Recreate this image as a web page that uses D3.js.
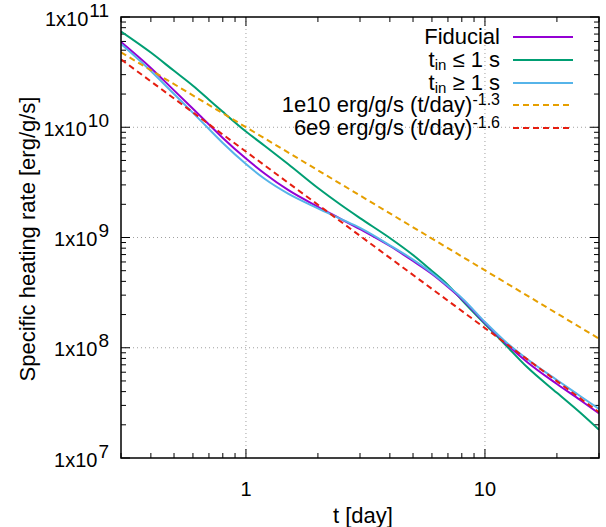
<!DOCTYPE html>
<html><head><meta charset="utf-8">
<script src="https://cdn.jsdelivr.net/npm/d3@7"></script>
<style>
body{margin:0;background:#fff;}
text{font-family:"Liberation Sans",Arial,Helvetica,sans-serif;fill:#000;}
</style></head>
<body><svg id="c" width="606" height="527"></svg>
<script>
// ---- data ----
const days = [0.3,0.4,0.5,0.6,0.7,0.8,1,1.2,1.5,2,2.5,3,4,5,6,7,8,10,12,15,20,25,30];
const fiducial = [5.93e10,3.45e10,2.16e10,1.47e10,1.06e10,8.0e9,5.2e9,3.79e9,2.7e9,1.9e9,1.47e9,1.19e9,8.37e8,6.12e8,4.67e8,3.56e8,2.77e8,1.68e8,1.14e8,7.43e7,4.69e7,3.36e7,2.54e7];
const tinShort = [7.39e10,4.76e10,3.25e10,2.38e10,1.78e10,1.38e10,9.15e9,6.76e9,4.64e9,2.81e9,1.97e9,1.5e9,9.9e8,6.94e8,4.97e8,3.71e8,2.71e8,1.64e8,1.1e8,6.68e7,3.9e7,2.58e7,1.8e7];
const tinLong = [5.69e10,3.24e10,2.0e10,1.35e10,9.64e9,7.2e9,4.64e9,3.39e9,2.5e9,1.84e9,1.47e9,1.22e9,8.5e8,6.3e8,4.77e8,3.63e8,2.83e8,1.71e8,1.17e8,7.9e7,5.1e7,3.65e7,2.78e7];
const fitDays = [0.3,30];
const fit13 = [4.78e10,1.21e8];
const fit16 = [4.13e10,2.6e7];
const xMajor = [1,10];
const xMajorLabels = ["1","10"];
const xMinor = [0.3,0.4,0.5,0.6,0.7,0.8,0.9,2,3,4,5,6,7,8,9,20,30];
const yMajor = [1e7,1e8,1e9,1e10,1e11];
const yMajorExp = ["7","8","9","10","11"];
const seriesNames = ["Fiducial","t_in ≤ 1 s","t_in ≥ 1 s","1e10 erg/g/s (t/day)^-1.3","6e9 erg/g/s (t/day)^-1.6"];
const seriesColors = ["#9400d3","#009e73","#56b4e9","#e69f00","#e51e10"];

// ---- layout ----
const svg = d3.select("#c");
const L=121,R=599,T=17,B=458;
const x = d3.scaleLog().domain([0.3,30]).range([L,R]);
const y = d3.scaleLog().domain([1e7,1e11]).range([B,T]);
const yMinor = [];
for (let e=7;e<11;e++) for (let m=2;m<=9;m++) yMinor.push(m*Math.pow(10,e));

// grid
const g = svg.append("g");
g.selectAll(".gx").data(xMajor).enter().append("line")
 .attr("x1",d=>x(d)).attr("x2",d=>x(d)).attr("y1",T).attr("y2",B)
 .attr("stroke","#a0a0a0").attr("stroke-width",1).attr("stroke-dasharray","1,3");
g.selectAll(".gy").data(yMajor.slice(1,4)).enter().append("line")
 .attr("y1",d=>y(d)).attr("y2",d=>y(d)).attr("x1",L).attr("x2",R)
 .attr("stroke","#a0a0a0").attr("stroke-width",1).attr("stroke-dasharray","1,3");

// ticks (mirrored, inward)
const tk = svg.append("g").attr("stroke","#000").attr("stroke-width",1);
function xt(vals,len){
  vals.forEach(v=>{
    tk.append("line").attr("x1",x(v)).attr("x2",x(v)).attr("y1",B).attr("y2",B-len);
    tk.append("line").attr("x1",x(v)).attr("x2",x(v)).attr("y1",T).attr("y2",T+len);
  });
}
function yt(vals,len){
  vals.forEach(v=>{
    tk.append("line").attr("y1",y(v)).attr("y2",y(v)).attr("x1",L).attr("x2",L+len);
    tk.append("line").attr("y1",y(v)).attr("y2",y(v)).attr("x1",R).attr("x2",R-len);
  });
}
xt(xMajor,9); xt(xMinor,5); yt(yMajor,9); yt(yMinor,5);

// clip
svg.append("clipPath").attr("id","clip").append("rect").attr("x",L).attr("y",T).attr("width",R-L).attr("height",B-T);
const plot = svg.append("g").attr("clip-path","url(#clip)");
const line = d3.line().x(d=>x(d[0])).y(d=>y(d[1])).curve(d3.curveMonotoneX);
const series = [
 {v:fit13,t:fitDays,c:seriesColors[3],dash:"6,4"},
 {v:fit16,t:fitDays,c:seriesColors[4],dash:"6,4"},
 {v:tinShort,t:days,c:seriesColors[1]},
 {v:fiducial,t:days,c:seriesColors[0]},
 {v:tinLong,t:days,c:seriesColors[2]}
];
[series[2],series[3],series[4],series[0],series[1]].forEach(s=>{
  plot.append("path").datum(s.t.map((t,i)=>[t,s.v[i]]))
   .attr("d",line).attr("fill","none").attr("stroke",s.c).attr("stroke-width",2)
   .attr("stroke-dasharray",s.dash||null);
});

// frame
svg.append("rect").attr("x",L).attr("y",T).attr("width",R-L).attr("height",B-T)
 .attr("fill","none").attr("stroke","#000").attr("stroke-width",1.5);

// tick labels
xMajor.forEach((v,i)=>{
  svg.append("text").attr("x",x(v)).attr("y",496).attr("text-anchor","middle")
   .attr("font-size",20).text(xMajorLabels[i]);
});
yMajor.forEach((v,i)=>{
  const t = svg.append("text").attr("x",109).attr("y",y(v)+8.5).attr("text-anchor","end").attr("font-size",20);
  t.append("tspan").text("1x10");
  t.append("tspan").attr("dy",-9).attr("dx",1).attr("font-size",19).text(yMajorExp[i]);
});

// axis titles
svg.append("text").attr("x",363).attr("y",523).attr("text-anchor","middle").attr("font-size",22).text("t [day]");
svg.append("text").attr("transform","translate(35,239) rotate(-90)").attr("text-anchor","middle")
 .attr("font-size",22).text("Specific heating rate [erg/g/s]");

// legend
const legY=[37,60,83,105,128];
seriesNames.forEach((name,i)=>{
  const t = svg.append("text").attr("x",500).attr("y",legY[i]+7).attr("text-anchor","end").attr("font-size",22);
  if (name.includes("_in")) {
    const parts = name.split("_in");
    t.append("tspan").text(parts[0]);
    t.append("tspan").attr("dy",3).attr("font-size",15).text("in");
    t.append("tspan").attr("dy",-3).text(parts[1]);
  } else if (name.includes("^")) {
    const parts = name.split("^");
    t.append("tspan").text(parts[0]);
    t.append("tspan").attr("dy",-7).attr("font-size",16).text(parts[1]);
  } else t.text(name);
  svg.append("line").attr("x1",513).attr("x2",573).attr("y1",legY[i]).attr("y2",legY[i])
   .attr("stroke",seriesColors[i]).attr("stroke-width",2)
   .attr("stroke-dasharray",i>=3?"6,4":null);
});
</script></body></html>
